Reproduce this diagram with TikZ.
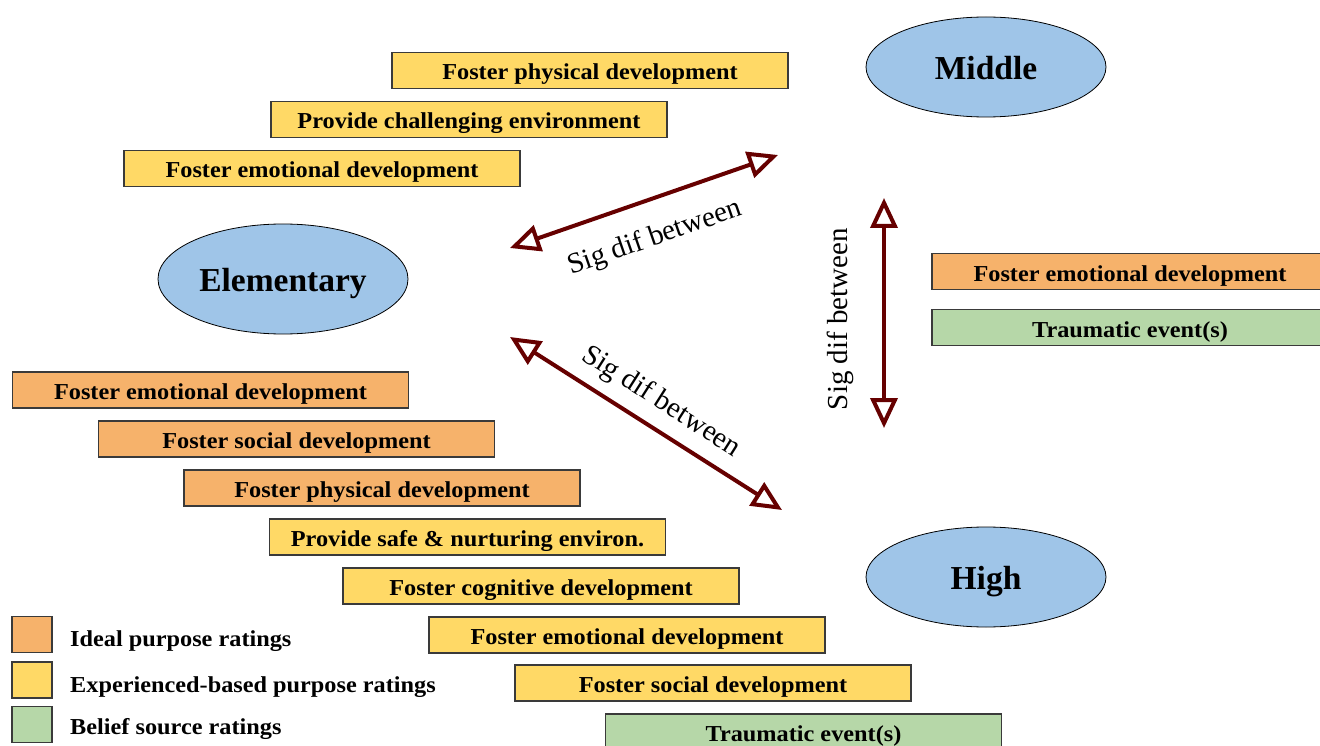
\documentclass[tikz,border=0pt]{standalone}
\usepackage{fontspec}
\setmainfont{Liberation Serif}
\newfontfamily\widefont[FakeStretch=1.065]{Liberation Serif}
\usetikzlibrary{arrows.meta,shapes.geometric}
\definecolor{idealC}{HTML}{F6B26B}
\definecolor{expC}{HTML}{FFD966}
\definecolor{beliefC}{HTML}{B6D7A8}
\definecolor{levelC}{HTML}{9FC5E8}
\definecolor{sigC}{HTML}{660000}
\definecolor{edgeC}{HTML}{3A3A3A}
\tikzset{sigtip/.tip={Triangle[length=30pt,width=27pt,fill=white]}}
\begin{document}
\begin{tikzpicture}[x=1pt,y=-1pt,
  rating/.style={draw=edgeC, line width=1.3pt, minimum width=396pt, minimum height=36pt,
    inner sep=0pt, text height=19pt, text depth=0pt,
    font=\widefont\fontsize{22.8}{27}\selectfont\bfseries},
  ideal/.style={rating, fill=idealC},
  exper/.style={rating, fill=expC},
  belief/.style={rating, fill=beliefC},
  level/.style={ellipse, draw=black, line width=0.8pt, fill=levelC, inner sep=0pt,
    minimum width=240pt, minimum height=100pt, text height=25pt, text depth=0pt,
    font=\fontsize{33.5}{40}\selectfont\bfseries},
  sig/.style={draw=sigC, line width=4pt, sigtip-sigtip},
  siglabel/.style={font=\fontsize{29}{34}\selectfont, inner sep=0pt},
  key/.style={draw=edgeC, line width=1.3pt, minimum width=40pt, minimum height=36pt, inner sep=0pt},
  keytext/.style={anchor=base west, inner sep=0pt,
    font=\widefont\fontsize{22.8}{27}\selectfont\bfseries}]

\useasboundingbox (0,0) rectangle (1320,746);

% school levels
\node[level] (middle) at (986,67) {Middle};
\node[level, minimum width=250pt, minimum height=110pt] (elem) at (283,279) {Elementary};
\node[level] (high) at (986,577) {High};

% ratings beside Middle
\node[exper] (m1) at (590,70.5) {Foster physical development};
\node[exper] (m2) at (469,119.5) {Provide challenging environment};
\node[exper] (m3) at (322,168.5) {Foster emotional development};

% ratings beside the Middle--High comparison
\node[ideal]  (r1) at (1130,271.5) {Foster emotional development};
\node[belief] (r2) at (1130,327.5) {Traumatic event(s)};

% ratings beside Elementary--High
\node[ideal] (e1) at (210.5,390) {Foster emotional development};
\node[ideal] (e2) at (296.5,439) {Foster social development};
\node[ideal] (e3) at (382,488) {Foster physical development};
\node[exper] (e4) at (467.5,537) {Provide safe \& nurturing environ.};
\node[exper] (e5) at (541,586) {Foster cognitive development};
\node[exper] (e6) at (627,635) {Foster emotional development};
\node[exper] (e7) at (713,683) {Foster social development};
\node[belief] (e8) at (803.5,732) {Traumatic event(s)};

% significant-difference arrows
\coordinate (em1) at (510,248);
\coordinate (em2) at (778,155);
\coordinate (eh1) at (510,337);
\coordinate (eh2) at (782,510);
\coordinate (mh1) at (884,198);
\coordinate (mh2) at (884,428);
\draw[sig] (em1) -- (em2);
\draw[sig] (eh1) -- (eh2);
\draw[sig] (mh1) -- (mh2);
\node[siglabel, rotate=19.1] (l1) at (655,238) {Sig dif between};
\node[siglabel, rotate=-32.5] (l2) at (661,402) {Sig dif between};
\node[siglabel, rotate=90] (l3) at (840,319) {Sig dif between};

% legend
\node[key, fill=idealC]  (k1) at (32,634.5) {};
\node[key, fill=expC]    (k2) at (32,680) {};
\node[key, fill=beliefC] (k3) at (32,724.5) {};
\node[keytext] (t1) at (70,646) {Ideal purpose ratings};
\node[keytext] (t2) at (70,692) {Experienced-based purpose ratings};
\node[keytext] (t3) at (70,734.5) {Belief source ratings};
\end{tikzpicture}
\end{document}
